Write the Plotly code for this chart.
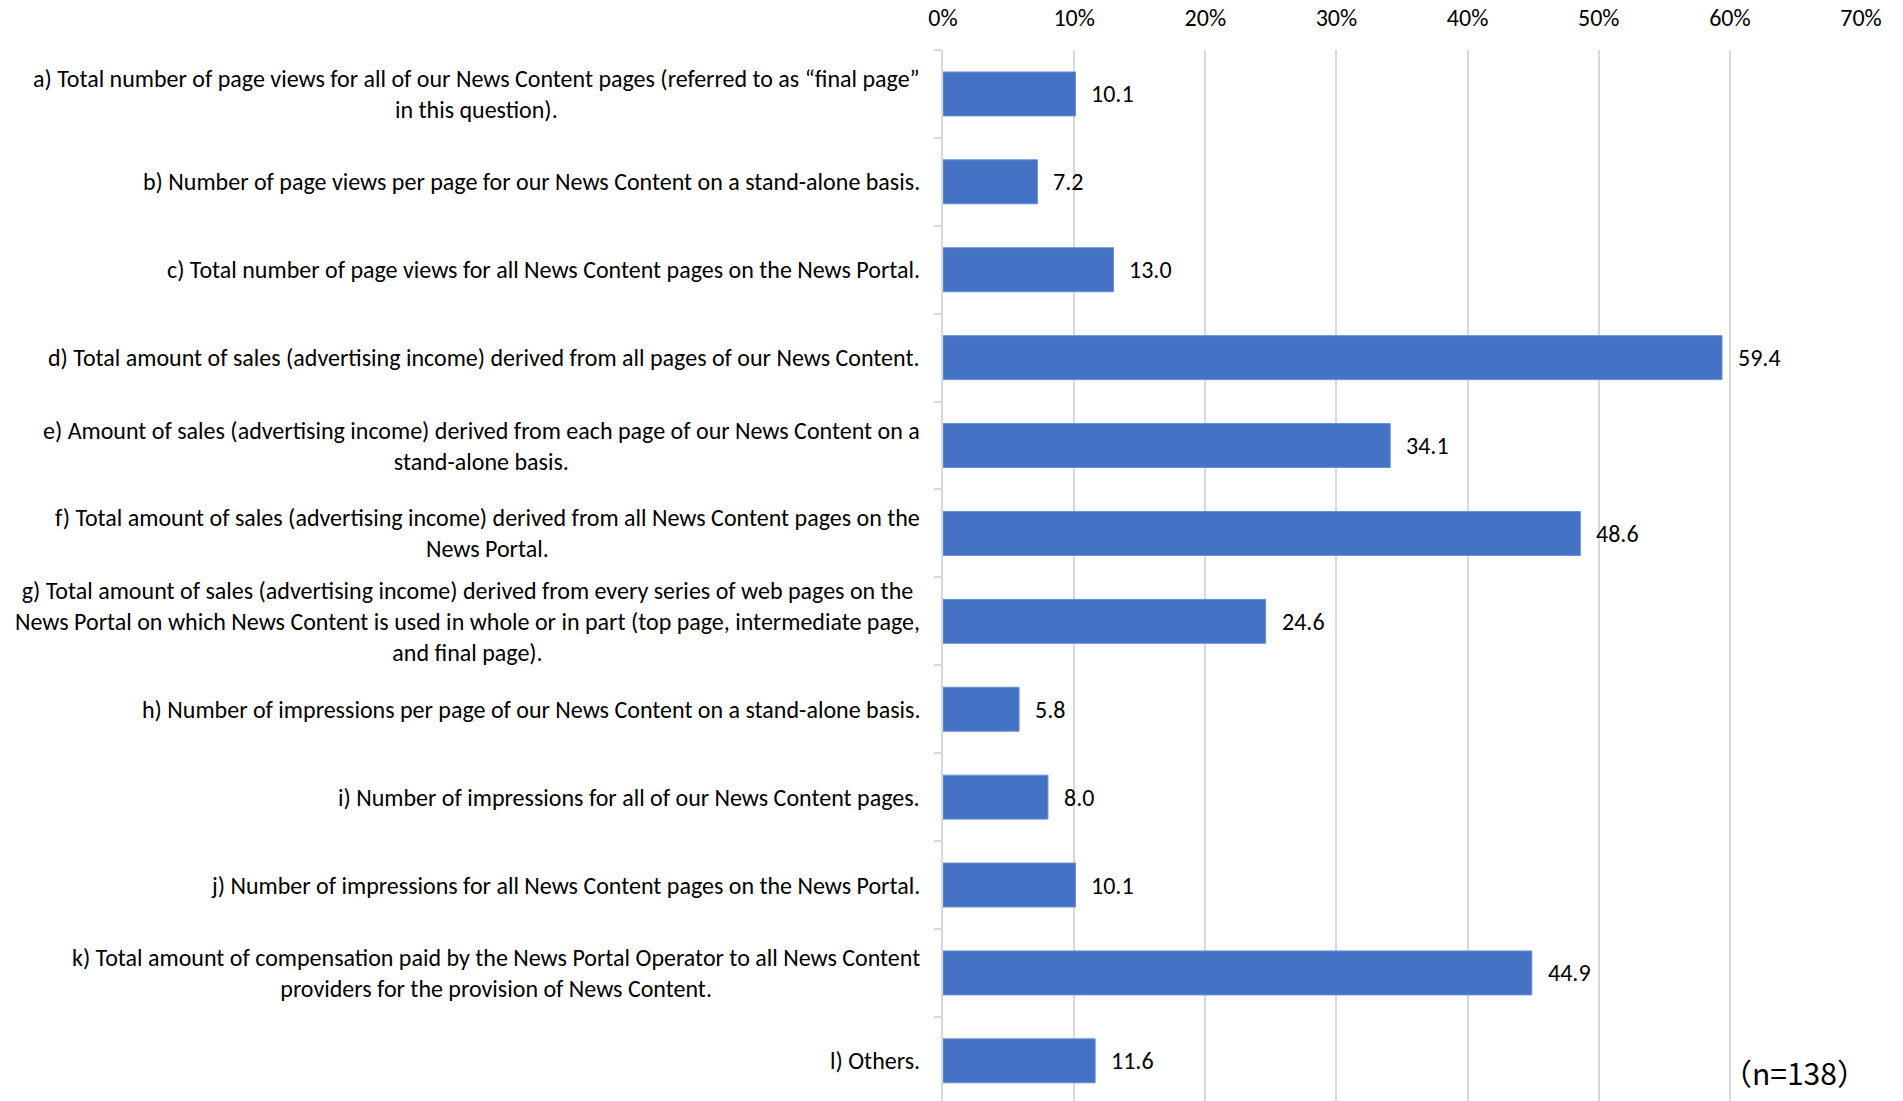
import plotly.graph_objects as go

# Survey items (y categories), top to bottom
categories = [
    "a) Total number of page views for all of our News Content pages (referred to as “final page”<br>in this question).",
    "b) Number of page views per page for our News Content on a stand-alone basis.",
    "c) Total number of page views for all News Content pages on the News Portal.",
    "d) Total amount of sales (advertising income) derived from all pages of our News Content.",
    "e) Amount of sales (advertising income) derived from each page of our News Content on a<br>stand-alone basis.",
    "f) Total amount of sales (advertising income) derived from all News Content pages on the<br>News Portal.",
    "g) Total amount of sales (advertising income) derived from every series of web pages on the<br>News Portal on which News Content is used in whole or in part (top page, intermediate page,<br>and final page).",
    "h) Number of impressions per page of our News Content on a stand-alone basis.",
    "i) Number of impressions for all of our News Content pages.",
    "j) Number of impressions for all News Content pages on the News Portal.",
    "k) Total amount of compensation paid by the News Portal Operator to all News Content<br>providers for the provision of News Content.",
    "l) Others.",
]

# Share of respondents (%)
values = [10.1, 7.2, 13.0, 59.4, 34.1, 48.6, 24.6, 5.8, 8.0, 10.1, 44.9, 11.6]

x_ticks = [0, 10, 20, 30, 40, 50, 60, 70]
sample_note = "（n=138）"

FONT = "Carlito, Lato, sans-serif"
BAR = "#4472C4"
GRID = "#D9D9D9"

positions = list(range(len(categories)))

fig = go.Figure(
    go.Bar(
        x=values,
        y=positions,
        orientation="h",
        marker=dict(color=BAR, line=dict(color="#6A8ED2", width=1)),
        hoverinfo="skip",
    )
)

annotations = []
for pos, label in zip(positions, categories):
    annotations.append(dict(
        x=0, xref="paper", y=pos, yref="y",
        text=label, showarrow=False,
        xanchor="right", yanchor="middle", align="center",
        xshift=-21,
        font=dict(family=FONT, size=24, color="#000000"),
    ))

for pos, v in zip(positions, values):
    annotations.append(dict(
        x=v, xref="x", y=pos, yref="y",
        text=f"{v:.1f}", showarrow=False,
        xanchor="left", yanchor="middle",
        xshift=14,
        font=dict(family=FONT, size=24, color="#000000"),
    ))

annotations.append(dict(
    x=0.928, xref="paper", y=0.028, yref="paper",
    text=sample_note, showarrow=False,
    xanchor="center", yanchor="middle",
    font=dict(family="Noto Sans CJK JP, sans-serif", size=30, color="#000000"),
))

fig.update_layout(
    width=1903,
    height=1101,
    margin=dict(l=943, r=42, t=50, b=0, pad=0),
    paper_bgcolor="white",
    plot_bgcolor="white",
    bargap=0.5,
    showlegend=False,
    annotations=annotations,
    xaxis=dict(
        side="top",
        range=[0, 70],
        tickvals=x_ticks,
        ticktext=[f"{t}%" for t in x_ticks],
        showgrid=True,
        gridcolor=GRID,
        gridwidth=2,
        zeroline=False,
        showline=False,
        ticks="",
        ticklabelstandoff=18,
        tickfont=dict(family=FONT, size=24, color="#000000"),
    ),
    yaxis=dict(
        range=[11.457, -0.5],
        tickvals=[p - 0.5 for p in positions] + [len(positions) - 0.5],
        showticklabels=False,
        ticks="outside",
        ticklen=7,
        tickwidth=2,
        tickcolor=GRID,
        showgrid=False,
        zeroline=False,
        showline=True,
        linecolor=GRID,
        linewidth=2,
    ),
)

fig.write_html("out.html")
